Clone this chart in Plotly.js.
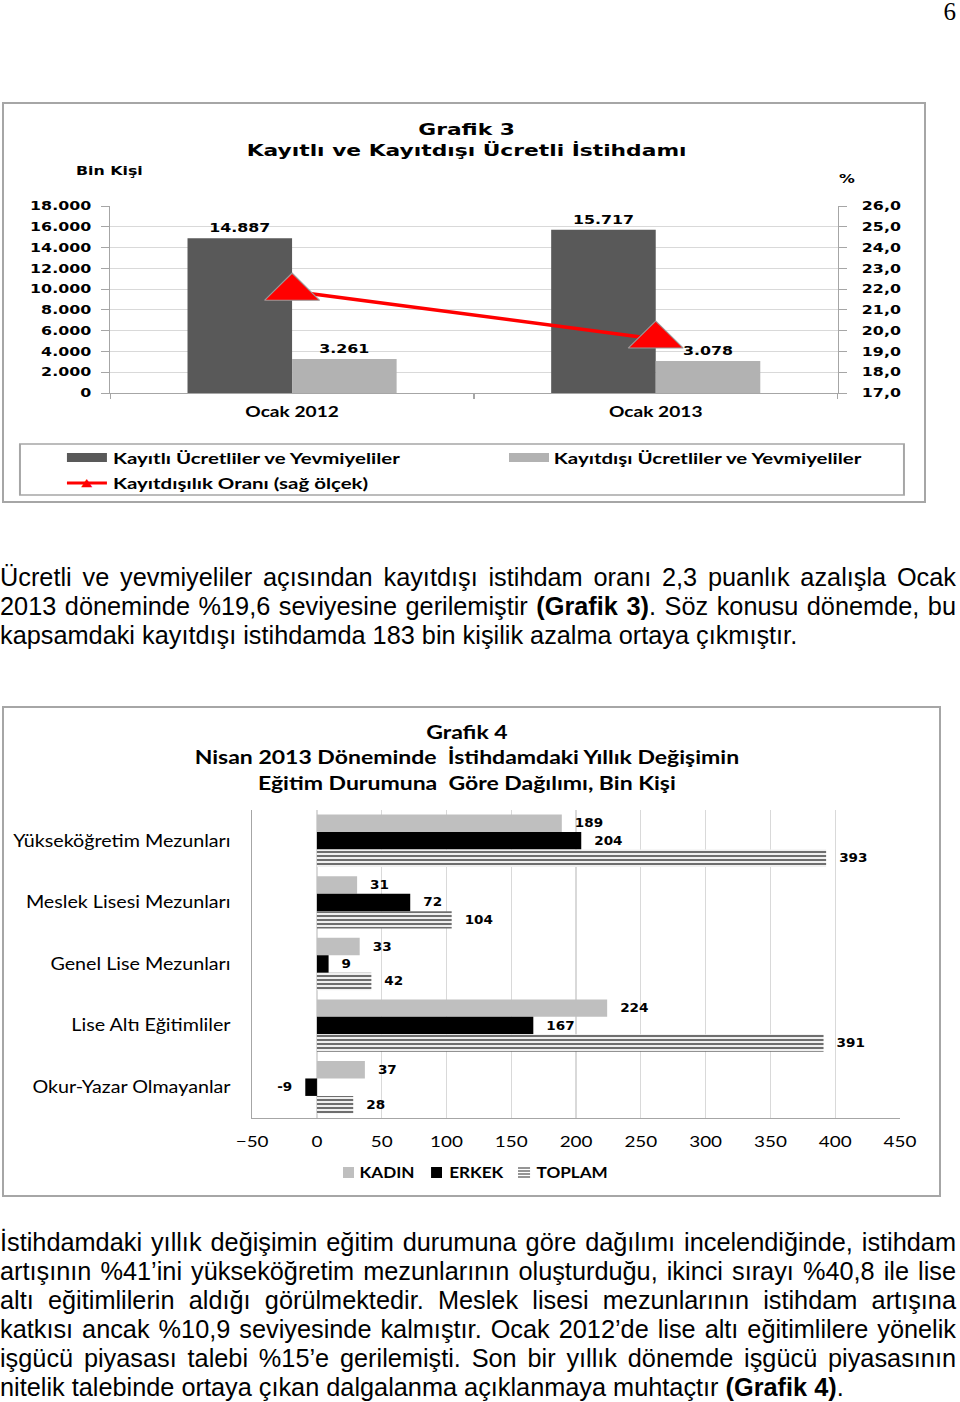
<!DOCTYPE html>
<html><head><meta charset="utf-8">
<script src="https://cdn.plot.ly/plotly-3.0.1.min.js"></script>
<style>
html,body{margin:0;padding:0;background:#fff;width:960px;height:1402px;overflow:hidden;position:relative;}
.abs{position:absolute;}
.frame{position:absolute;box-sizing:border-box;border:2px solid #a6a6a6;pointer-events:none;}
.txt{position:absolute;left:0;width:956px;font-family:'Liberation Sans',Arial,sans-serif;font-size:25.3px;line-height:29px;color:#000;}
.txt div{text-align:justify;text-align-last:justify;}
.txt div.last{text-align:left;text-align-last:left;}
.pnum{position:absolute;right:4px;top:-2px;font-family:'Liberation Serif','Times New Roman',serif;font-size:25px;color:#000;}
</style></head>
<body>
<div class="pnum">6</div>

<div id="g3" class="abs" style="left:2px;top:102px;width:700px;height:401px;transform:scaleX(1.32);transform-origin:0 0;"></div>
<div class="frame" style="left:2px;top:102px;width:924px;height:401px;"></div>

<div class="txt" style="top:562.5px;">
<div>Ücretli ve yevmiyeliler açısından kayıtdışı istihdam oranı 2,3 puanlık azalışla Ocak</div>
<div>2013 döneminde %19,6 seviyesine gerilemiştir <b>(Grafik 3)</b>. Söz konusu dönemde, bu</div>
<div class="last">kapsamdaki kayıtdışı istihdamda 183 bin kişilik azalma ortaya çıkmıştır.</div>
</div>

<div id="g4" class="abs" style="left:2px;top:706px;width:796px;height:491px;transform:scaleX(1.18);transform-origin:0 0;"></div>
<div class="frame" style="left:2px;top:706px;width:939px;height:491px;"></div>

<div class="txt" style="top:1227.5px;">
<div>İstihdamdaki yıllık değişimin eğitim durumuna göre dağılımı incelendiğinde, istihdam</div>
<div>artışının %41’ini yükseköğretim mezunlarının oluşturduğu, ikinci sırayı %40,8 ile lise</div>
<div>altı eğitimlilerin aldığı görülmektedir. Meslek lisesi mezunlarının istihdam artışına</div>
<div>katkısı ancak %10,9 seviyesinde kalmıştır. Ocak 2012’de lise altı eğitimlilere yönelik</div>
<div>işgücü piyasası talebi %15’e gerilemişti. Son bir yıllık dönemde işgücü piyasasının</div>
<div class="last">nitelik talebinde ortaya çıkan dalgalanma açıklanmaya muhtaçtır <b>(Grafik 4)</b>.</div>
</div>

<script>
// ---------- DATA: Grafik 3 ----------
const g3Categories = ['Ocak 2012', 'Ocak 2013'];
const g3Kayitli = [14887, 15717];
const g3Kayitdisi = [3261, 3078];
const g3Oran = [21.9, 19.6];
const g3Names = ['Kayıtlı Ücretliler ve Yevmiyeliler', 'Kayıtdışı Ücretliler ve Yevmiyeliler', 'Kayıtdışılık Oranı (sağ ölçek)'];
const g3Title = 'Grafik 3<br>Kayıtlı ve Kayıtdışı Ücretli İstihdamı';
const g3LeftUnit = 'Bin Kişi';
const g3RightUnit = '%';

// ---------- DATA: Grafik 4 ----------
const g4Categories = ['Yükseköğretim Mezunları', 'Meslek Lisesi Mezunları', 'Genel Lise Mezunları', 'Lise Altı Eğitimliler', 'Okur-Yazar Olmayanlar'];
const g4Kadin = [189, 31, 33, 224, 37];
const g4Erkek = [204, 72, 9, 167, -9];
const g4Toplam = [393, 104, 42, 391, 28];
const g4Names = ['KADIN', 'ERKEK', 'TOPLAM'];
const g4Title = 'Grafik 4<br>Nisan 2013 Döneminde\u00a0 İstihdamdaki Yıllık Değişimin<br>Eğitim Durumuna\u00a0 Göre Dağılımı, Bin Kişi';

const F_V = 'DejaVu Sans, Verdana, sans-serif';
const F_C = 'Lato, Calibri, sans-serif';
const cfg = {staticPlot: true, displayModeBar: false};

// ---------- Grafik 3 ----------
(function(){
  const W = 700, H = 401, L = 82, R = 67, T = 104, B = 110;
  const px = u => (u - L) / (W - L - R);
  const py = y => (H - B - y) / (H - T - B);
  const lblFont = {family: F_V, size: 12, color: '#000', weight: 'bold'};
  const traces = [
    {type: 'bar', x: g3Categories, y: g3Kayitli, name: g3Names[0], marker: {color: '#595959'},
     texttemplate: '%{y:,d}', textposition: 'outside', textfont: lblFont, constraintext: 'none', cliponaxis: false, showlegend: false},
    {type: 'bar', x: g3Categories, y: g3Kayitdisi, name: g3Names[1], marker: {color: '#b2b2b2'},
     texttemplate: '%{y:,d}', textposition: 'outside', textfont: lblFont, constraintext: 'none', cliponaxis: false, showlegend: false},
    {type: 'scatter', mode: 'lines+markers', x: g3Categories, y: g3Oran, yaxis: 'y2', name: g3Names[2],
     line: {color: '#ff0000', width: 3.5},
     marker: {symbol: 'triangle-up', size: 36, color: '#ff0000', line: {color: '#9a9a9a', width: 1}},
     cliponaxis: false, showlegend: false}
  ];
  const legFont = {family: F_C, size: 15.5, color: '#000', weight: 'bold'};
  const layout = {
    width: W, height: H, margin: {l: L, r: R, t: T, b: B},
    paper_bgcolor: '#fff', plot_bgcolor: '#fff', separators: ',.',
    barmode: 'group', bargap: 0.425, bargroupgap: 0,
    title: {text: g3Title, font: {family: F_V, size: 16.5, weight: 'bold', color: '#000'},
            x: 352 / W, xref: 'container', xanchor: 'center', y: 1 - 33 / H, yref: 'container', yanchor: 'top'},
    xaxis: {type: 'category', showline: true, linecolor: '#a6a6a6', linewidth: 1, ticks: 'outside', tickson: 'boundaries',
            ticklen: 5, tickcolor: '#a6a6a6', showgrid: false,
            tickfont: {family: F_C, size: 14.5, weight: 'bold', color: '#000'}, ticklabelstandoff: 6},
    yaxis: {range: [0, 18000], dtick: 2000, tickformat: ',d', showline: true, linecolor: '#a6a6a6', ticks: 'outside',
            ticklen: 6, tickcolor: '#a6a6a6', showgrid: true, gridcolor: '#d9d9d9', zeroline: false,
            tickfont: {family: F_V, size: 12, weight: 'bold', color: '#000'}, ticklabelstandoff: 5},
    yaxis2: {overlaying: 'y', side: 'right', range: [17, 26], dtick: 1, tickformat: '.1f', showline: true,
             linecolor: '#a6a6a6', ticks: 'outside', ticklen: 6, tickcolor: '#a6a6a6', showgrid: false, zeroline: false,
             tickfont: {family: F_V, size: 12, weight: 'bold', color: '#000'}, ticklabelstandoff: 9},
    shapes: [
      {type: 'rect', xref: 'paper', yref: 'paper', x0: px(13.6), x1: px(683.3), y0: py(393), y1: py(342),
       line: {color: '#a6a6a6', width: 1.5}, fillcolor: 'rgba(0,0,0,0)'},
      {type: 'rect', xref: 'paper', yref: 'paper', x0: px(49.2), x1: px(79.5), y0: py(360), y1: py(351),
       line: {width: 0}, fillcolor: '#595959'},
      {type: 'rect', xref: 'paper', yref: 'paper', x0: px(384.1), x1: px(414.4), y0: py(360), y1: py(351),
       line: {width: 0}, fillcolor: '#b2b2b2'},
      {type: 'line', xref: 'paper', yref: 'paper', x0: px(49.2), x1: px(79.5), y0: py(381), y1: py(381),
       line: {color: '#ff0000', width: 3}}
    ],
    annotations: [
      {text: g3LeftUnit, xref: 'paper', yref: 'paper', x: px(81.8), y: py(69), xanchor: 'center', yanchor: 'middle',
       showarrow: false, font: {family: F_V, size: 12, weight: 'bold', color: '#000'}},
      {text: g3RightUnit, xref: 'paper', yref: 'paper', x: px(640), y: py(77), xanchor: 'center', yanchor: 'middle',
       showarrow: false, font: {family: F_V, size: 12, weight: 'bold', color: '#000'}},
      {text: g3Names[0], xref: 'paper', yref: 'paper', x: px(81.5), y: py(355.5), xanchor: 'left', yanchor: 'middle', showarrow: false, font: legFont},
      {text: g3Names[1], xref: 'paper', yref: 'paper', x: px(416.3), y: py(355.5), xanchor: 'left', yanchor: 'middle', showarrow: false, font: legFont},
      {text: g3Names[2], xref: 'paper', yref: 'paper', x: px(81.5), y: py(381), xanchor: 'left', yanchor: 'middle', showarrow: false, font: legFont},
      {text: '▲', xref: 'paper', yref: 'paper', x: px(64.4), y: py(380), xanchor: 'center', yanchor: 'middle', showarrow: false,
       font: {family: F_V, size: 11, color: '#ff0000'}}
    ]
  };
  Plotly.newPlot('g3', traces, layout, cfg);
})();

// ---------- Grafik 4 ----------
(function(){
  const W = 796, H = 491, L = 212, R = 35, T = 104, B = 79;
  const px = u => (u - L) / (W - L - R);
  const py = y => (H - B - y) / (H - T - B);
  const lblFont = {family: F_V, size: 11.5, color: '#000', weight: 'bold'};
  const pad = v => (v < 0 ? v + '\u00a0\u00a0' : '\u00a0\u00a0' + v);
  const series = [g4Kadin, g4Erkek, g4Toplam];
  const markers = [
    {color: '#bfbfbf'},
    {color: '#000000'},
    {color: '#f0f0f0', pattern: {shape: '-', fgcolor: '#6e6e6e', bgcolor: '#f0f0f0', size: 4, solidity: 0.5}}
  ];
  const traces = series.map((vals, i) => ({
    type: 'bar', orientation: 'h', y: g4Categories, x: vals, name: g4Names[i], marker: markers[i],
    text: vals.map(pad), textposition: 'outside', textfont: lblFont, constraintext: 'none', cliponaxis: false, showlegend: false
  }));
  const legFont = {family: F_C, size: 14.5, color: '#000', weight: 'bold'};
  const shapes = [
    {type: 'rect', xref: 'paper', yref: 'paper', x0: px(289), x1: px(298.3), y0: py(472), y1: py(461), line: {width: 0}, fillcolor: '#bfbfbf'},
    {type: 'rect', xref: 'paper', yref: 'paper', x0: px(363.6), x1: px(372.9), y0: py(472), y1: py(461), line: {width: 0}, fillcolor: '#000000'}
  ];
  [462, 465, 468, 471].forEach(yy => shapes.push(
    {type: 'line', xref: 'paper', yref: 'paper', x0: px(437.3), x1: px(447.5), y0: py(yy), y1: py(yy), line: {color: '#7a7a7a', width: 1.6}}
  ));
  const layout = {
    width: W, height: H, margin: {l: L, r: R, t: T, b: B},
    paper_bgcolor: '#fff', plot_bgcolor: '#fff', separators: ',.',
    barmode: 'group', bargap: 0.15, bargroupgap: 0,
    title: {text: g4Title, font: {family: F_C, size: 19.5, weight: 'bold', color: '#000'},
            x: 394 / W, xref: 'container', xanchor: 'center', y: 1 - 33 / H, yref: 'container', yanchor: 'top'},
    xaxis: {range: [-50, 450], dtick: 50, tick0: 0, showgrid: true, gridcolor: '#d9d9d9', showline: true, linecolor: '#a6a6a6',
            zeroline: false, ticks: '', tickfont: {family: F_C, size: 16, color: '#000'}, ticklabelstandoff: 9},
    yaxis: {type: 'category', autorange: 'reversed', showline: true, linecolor: '#a6a6a6', ticks: '', showgrid: false,
            tickfont: {family: F_C, size: 16.7, color: '#000'}, ticklabelstandoff: 14},
    shapes: shapes,
    annotations: [
      {text: g4Names[0], xref: 'paper', yref: 'paper', x: px(301.2), y: py(466.5), xanchor: 'left', yanchor: 'middle', showarrow: false, font: legFont},
      {text: g4Names[1], xref: 'paper', yref: 'paper', x: px(376.6), y: py(466.5), xanchor: 'left', yanchor: 'middle', showarrow: false, font: legFont},
      {text: g4Names[2], xref: 'paper', yref: 'paper', x: px(451.2), y: py(466.5), xanchor: 'left', yanchor: 'middle', showarrow: false, font: legFont}
    ]
  };
  Plotly.newPlot('g4', traces, layout, cfg);
})();
</script>
</body></html>
